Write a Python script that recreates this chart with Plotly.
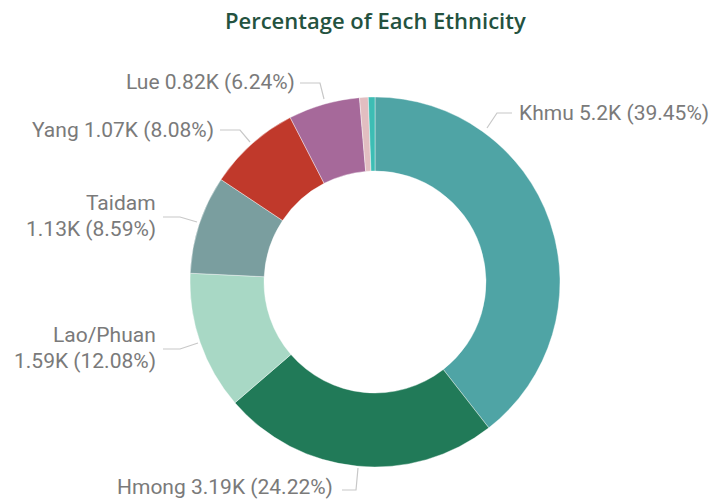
import plotly.graph_objects as go

W, H = 723, 501

# ---- data ----
ethnicities = ["Khmu", "Hmong", "Lao/Phuan", "Taidam", "Yang", "Lue", "Other A", "Other B"]
counts = [5196, 3190, 1591, 1131, 1064, 822, 100, 76]
count_labels = ["5.2K", "3.19K", "1.59K", "1.13K", "1.07K", "0.82K", "", ""]
pct_labels = ["39.45%", "24.22%", "12.08%", "8.59%", "8.08%", "6.24%", "", ""]

colors = ["#4FA4A5", "#217A58", "#A8D8C5", "#7A9E9F", "#C0392B", "#A6699A", "#E2BEC1", "#3DBDB4"]

# ---- layout helpers (pixel positions of labels / leaders) ----
def px(x):
    return x / W

def py(y):
    return 1 - y / H

label_layout = {
    "Khmu": dict(anchor="left", x=517, ys=[113], leader=[(487, 128), (497, 113), (512, 113)]),
    "Hmong": dict(anchor="right", x=335, ys=[487], leader=[(358, 468), (356, 490), (342, 490)]),
    "Lao/Phuan": dict(anchor="right", x=158, ys=[335, 361], leader=[(198, 343), (180, 349), (163, 349)]),
    "Taidam": dict(anchor="right", x=158, ys=[203, 229], leader=[(197, 222), (180, 217), (163, 217)]),
    "Yang": dict(anchor="right", x=216, ys=[130], leader=[(250, 142), (240, 130), (220, 130)]),
    "Lue": dict(anchor="right", x=297, ys=[82], leader=[(324, 99), (320, 83), (300, 83)]),
}

fig = go.Figure(go.Pie(
    labels=ethnicities,
    values=counts,
    hole=0.6,
    sort=False,
    direction="clockwise",
    rotation=0,
    marker=dict(colors=colors, line=dict(color="white", width=0.4)),
    textinfo="none",
    showlegend=False,
    domain=dict(x=[px(190), px(560)], y=[py(467), py(97)]),
))

annotations = []
shapes = []
font = dict(family="Roboto", size=21, color="#7A7A7A")
for name, cl, pl in zip(ethnicities, count_labels, pct_labels):
    if name not in label_layout:
        continue
    lay = label_layout[name]
    full = f"{name} {cl} ({pl})"
    lines = [full] if len(lay["ys"]) == 1 else [name, f"{cl} ({pl})"]
    for txt, yy in zip(lines, lay["ys"]):
        annotations.append(dict(
            text=txt, x=px(lay["x"]), y=py(yy), xref="paper", yref="paper",
            xanchor=lay["anchor"], yanchor="middle", showarrow=False, font=font,
        ))
    pts = lay["leader"]
    path = "M " + " L ".join(f"{px(a)},{py(b)}" for a, b in pts)
    shapes.append(dict(type="path", path=path, xref="paper", yref="paper",
                       line=dict(color="#C8C8C8", width=1.2)))

annotations.append(dict(
    text="Percentage of Each Ethnicity", x=px(375), y=py(20), xref="paper", yref="paper",
    xanchor="center", yanchor="middle", showarrow=False,
    font=dict(family="Open Sans", size=22, color="#24523F", weight=600),
))

fig.update_layout(
    width=W, height=H,
    margin=dict(l=0, r=0, t=0, b=0),
    paper_bgcolor="white",
    plot_bgcolor="white",
    annotations=annotations,
    shapes=shapes,
)

fig.write_html("out.html", config={"displayModeBar": False},
               post_script="document.body.style.margin='0';document.body.style.overflow='hidden';")
